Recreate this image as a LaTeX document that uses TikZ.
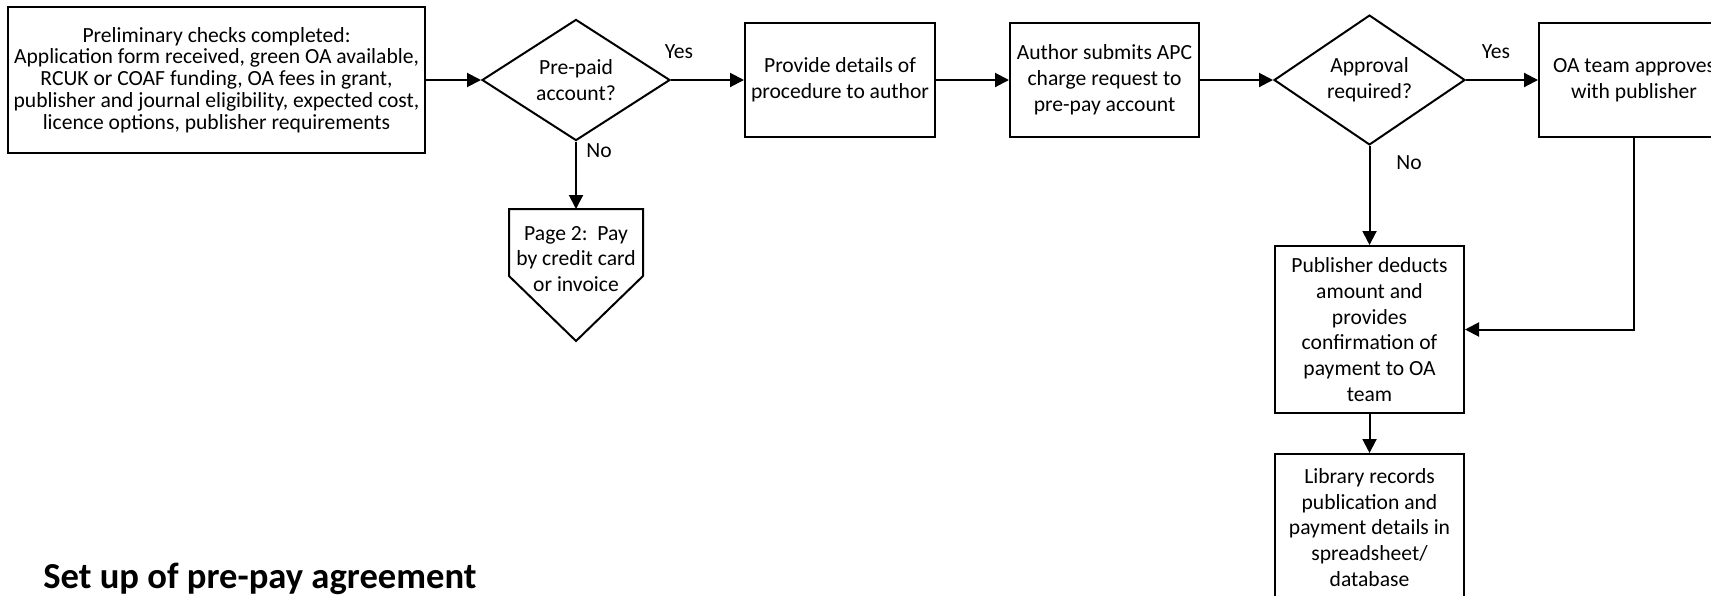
\documentclass[tikz,border=0pt]{standalone}
\usepackage{fontspec}
\setmainfont{Carlito}
\usetikzlibrary{arrows.meta,shapes.geometric}

\begin{document}
\begin{tikzpicture}[x=0.5pt,y=-0.5pt,
  box/.style={draw,line width=1pt,align=center,inner sep=0pt,font=\fontsize{10.8}{12.9}\selectfont},
  decision/.style={draw,diamond,line width=1pt,align=center,inner sep=0pt,font=\fontsize{10.8}{13.2}\selectfont},
  flow/.style={line width=1pt,-{Triangle[length=7pt,width=7pt]}},
  lbl/.style={font=\fontsize{10.8}{12.9}\selectfont}]
\useasboundingbox (0,0) rectangle (1711,595);
\clip (0,0) rectangle (1711,595);

\node [box,minimum width=208.5pt,minimum height=73pt,font=\fontsize{10.8}{10.9}\selectfont] (checks) at (216.5,80) {Preliminary checks completed:\\Application form received, green OA available,\\RCUK or COAF funding, OA fees in grant,\\publisher and journal eligibility, expected cost,\\licence options, publisher requirements};
\node [decision,minimum width=94pt,minimum height=57pt] (prepaid) at (576,80) {Pre-paid\\account?};
\node [box,minimum width=95pt,minimum height=57pt] (details) at (840,80) {Provide details of\\procedure to author};
\node [box,minimum width=94.5pt,minimum height=57pt] (submit) at (1104.5,80) {Author submits APC\\charge request to\\pre-pay account};
\node [decision,minimum width=95.5pt,minimum height=57pt] (approval) at (1369.5,80) {Approval\\required?};
\node [box,minimum width=95pt,minimum height=57pt] (approve) at (1634,80) {OA team approves\\with publisher};
\node [box,minimum width=94.5pt,minimum height=83.5pt] (deduct) at (1369.5,329.5) {Publisher deducts\\amount and\\provides\\confirmation of\\payment to OA\\team};
\node [box,minimum width=94.5pt,minimum height=73.5pt] (records) at (1369.5,527.5) {Library records\\publication and\\payment details in\\spreadsheet/\\database};

% off-page connector
\draw [line width=1pt] (509,209) -- (643,209) -- (643,276) -- (576,341) -- (509,276) -- cycle;
\coordinate (paytop) at (576,209);
\node [lbl,align=center] (pay) at (576,259) {Page 2:\ \ Pay\\by credit card\\or invoice};

\draw [flow] (checks) -- (prepaid);
\draw [flow] (prepaid) -- (details);
\draw [flow] (prepaid) -- (paytop);
\draw [flow] (details) -- (submit);
\draw [flow] (submit) -- (approval);
\draw [flow] (approval) -- (approve);
\draw [flow] (approval) -- (deduct);
\draw [flow] (approve) |- (deduct);
\draw [flow] (deduct) -- (records);

\node [lbl] (yes1) at (679,52) {Yes};
\node [lbl] (no1) at (599,151) {No};
\node [lbl] (yes2) at (1496,52) {Yes};
\node [lbl] (no2) at (1409,163) {No};

\node [anchor=base west,inner sep=0pt,font=\fontsize{18.3}{20}\bfseries] (title) at (43,588) {Set up of pre-pay agreement};
\end{tikzpicture}
\end{document}
